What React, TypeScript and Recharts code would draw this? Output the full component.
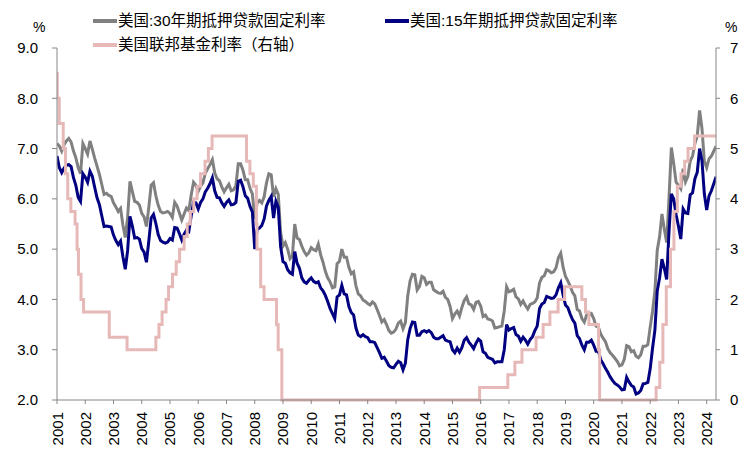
import React from "react";
import { LineChart, Line, XAxis, YAxis } from "recharts";

// Monthly points starting January 2001 (weekly survey rates)
const START_YEAR = 2001;

const mortgage30 = [
  7.1, 7.05, 6.95, 7.08, 7.15, 7.2, 7.13, 6.95, 6.82, 6.62, 6.5, 7.1,
  7.0, 6.89, 7.15, 6.99, 6.81, 6.65, 6.49, 6.29, 6.09, 6.11, 6.07, 6.05,
  5.92, 5.84, 5.75, 5.81, 5.48, 5.23, 5.63, 6.35, 6.15, 5.95, 5.93, 5.88,
  5.71, 5.64, 5.45, 5.83, 6.27, 6.32, 6.06, 5.87, 5.75, 5.72, 5.73, 5.75,
  5.71, 5.63, 5.93, 5.86, 5.72, 5.58, 5.7, 5.82, 5.77, 6.07, 6.33, 6.27,
  6.15, 6.25, 6.32, 6.51, 6.6, 6.68, 6.78, 6.52, 6.4, 6.36, 6.24, 6.14,
  6.22, 6.29, 6.16, 6.18, 6.26, 6.7, 6.7, 6.57, 6.38, 6.38, 6.21, 6.1,
  5.6, 5.92, 5.97, 5.92, 6.04, 6.32, 6.5, 6.48, 6.04, 6.2, 6.09, 5.33,
  5.06, 5.13, 5.0, 4.81, 4.86, 5.5, 5.22, 5.19, 5.06, 4.95, 4.88, 4.93,
  5.03, 4.99, 4.97, 5.1, 4.89, 4.74, 4.56, 4.43, 4.35, 4.23, 4.25, 4.71,
  4.76, 5.0, 4.84, 4.84, 4.64, 4.51, 4.55, 4.27, 4.11, 4.07, 3.99, 3.96,
  3.92, 3.89, 3.95, 3.91, 3.8, 3.68, 3.55, 3.6, 3.5, 3.38, 3.33, 3.35,
  3.41, 3.53, 3.57, 3.42, 3.54, 4.07, 4.37, 4.5, 4.49, 4.19, 4.26, 4.46,
  4.43, 4.3, 4.34, 4.34, 4.19, 4.16, 4.13, 4.12, 4.16, 4.04, 4.0, 3.86,
  3.62, 3.71, 3.77, 3.67, 3.84, 3.98, 4.05, 3.91, 3.89, 3.8, 3.94, 3.96,
  3.87, 3.66, 3.69, 3.61, 3.6, 3.57, 3.43, 3.44, 3.46, 3.47, 3.77, 4.25,
  4.15, 4.17, 4.2, 4.05, 4.01, 3.9, 3.97, 3.88, 3.81, 3.9, 3.92, 3.95,
  4.03, 4.33, 4.44, 4.47, 4.59, 4.57, 4.53, 4.55, 4.63, 4.83, 4.92, 4.64,
  4.46, 4.37, 4.27, 4.14, 4.07, 3.8, 3.77, 3.62, 3.55, 3.69, 3.7, 3.72,
  3.62, 3.47, 3.45, 3.31, 3.23, 3.16, 3.02, 2.94, 2.89, 2.83, 2.77, 2.68,
  2.7, 2.81, 3.08, 3.06, 2.96, 2.98, 2.87, 2.84, 2.9, 3.07, 3.07, 3.1,
  3.45, 3.76, 4.17, 4.98, 5.25, 5.7, 5.4, 5.13, 6.02, 7.02, 6.7, 6.33,
  6.27, 6.2, 6.6, 6.34, 6.45, 6.75, 6.85, 7.1, 7.25, 7.76, 7.4, 6.75,
  6.62, 6.8, 6.85, 6.95, 7.05,
];

const mortgage15 = [
  6.85, 6.62, 6.52, 6.61, 6.67, 6.68, 6.64, 6.42, 6.27, 6.03, 5.95, 6.5,
  6.43, 6.33, 6.55, 6.45, 6.23, 6.02, 5.89, 5.67, 5.45, 5.46, 5.45, 5.44,
  5.28, 5.17, 5.09, 5.16, 4.85, 4.6, 4.97, 5.65, 5.46, 5.22, 5.23, 5.2,
  5.01, 4.94, 4.74, 5.16, 5.62, 5.69, 5.51, 5.29, 5.17, 5.14, 5.12, 5.14,
  5.21, 5.18, 5.43, 5.42, 5.31, 5.18, 5.3, 5.38, 5.35, 5.66, 5.93, 5.92,
  5.8, 5.93, 6.0, 6.14, 6.21, 6.3, 6.42, 6.16, 6.03, 6.02, 5.92, 5.85,
  5.93, 5.98, 5.88, 5.89, 5.93, 6.35, 6.37, 6.24, 6.06, 6.01, 5.85, 5.74,
  5.0, 5.39, 5.42, 5.47, 5.6, 5.86, 5.97, 6.05, 5.62, 5.95, 5.83, 5.05,
  4.75, 4.72, 4.59, 4.53, 4.5, 4.95, 4.72, 4.62, 4.43, 4.35, 4.32, 4.38,
  4.43, 4.36, 4.33, 4.35, 4.23, 4.17, 4.08, 3.96, 3.82, 3.72, 3.62, 4.05,
  4.09, 4.28, 4.11, 4.09, 3.86, 3.74, 3.69, 3.43, 3.29, 3.26, 3.3, 3.26,
  3.24, 3.16, 3.16, 3.14, 3.04, 2.94, 2.83, 2.85, 2.77, 2.68, 2.65, 2.64,
  2.71, 2.77, 2.74, 2.6, 2.73, 3.2, 3.42, 3.55, 3.54, 3.29, 3.29, 3.36,
  3.38, 3.35, 3.38, 3.34, 3.25, 3.22, 3.22, 3.25, 3.28, 3.19, 3.17, 3.16,
  3.0, 2.94, 3.03, 2.95, 3.04, 3.19, 3.24, 3.15, 3.09, 3.02, 3.13, 3.21,
  3.17, 2.96, 2.93, 2.85, 2.83, 2.81, 2.74, 2.76, 2.76, 2.76, 3.0, 3.5,
  3.39, 3.42, 3.44, 3.3, 3.27, 3.17, 3.25, 3.19, 3.11, 3.2, 3.26, 3.38,
  3.47, 3.82, 3.91, 3.94, 4.06, 4.04, 4.02, 4.03, 4.09, 4.23, 4.33, 4.09,
  3.89, 3.84, 3.71, 3.6, 3.53, 3.28, 3.22, 3.09, 3.0, 3.15, 3.15, 3.19,
  3.09, 2.97, 2.97, 2.8, 2.72, 2.63, 2.55, 2.46, 2.39, 2.33, 2.3, 2.26,
  2.2, 2.21, 2.45, 2.36, 2.29, 2.26, 2.12, 2.14, 2.19, 2.32, 2.33, 2.35,
  2.62, 3.03, 3.39, 4.17, 4.43, 4.8, 4.62, 4.4, 5.35, 6.1, 6.0, 5.69,
  5.46, 5.2, 5.8, 5.72, 5.71, 6.08, 6.12, 6.4, 6.53, 7.0, 6.76, 6.1,
  5.78, 6.06, 6.16, 6.3, 6.44,
];

// Fed funds target changes (decimal year, rate)
const fedDates = [
  2001.0, 2001.01, 2001.08, 2001.22, 2001.3, 2001.38, 2001.49, 2001.64, 2001.71,
  2001.76, 2001.85, 2001.94, 2002.85, 2003.48, 2004.5, 2004.61, 2004.72, 2004.86,
  2004.95, 2005.09, 2005.22, 2005.34, 2005.5, 2005.61, 2005.72, 2005.84, 2005.96,
  2006.08, 2006.24, 2006.36, 2006.49, 2007.71, 2007.83, 2007.95, 2008.06, 2008.08,
  2008.21, 2008.33, 2008.77, 2008.83, 2008.96, 2015.96, 2016.96, 2017.21, 2017.46,
  2017.96, 2018.21, 2018.45, 2018.74, 2018.97, 2019.58, 2019.71, 2019.83, 2020.17,
  2020.21, 2022.21, 2022.34, 2022.45, 2022.57, 2022.72, 2022.84, 2022.96, 2023.09,
  2023.22, 2023.34, 2023.57, 2024.33,
];
const fedRates = [
  6.5, 6.0, 5.5, 5.0, 4.5, 4.0, 3.75, 3.5, 3.0,
  2.5, 2.0, 1.75, 1.25, 1.0, 1.25, 1.5, 1.75, 2.0,
  2.25, 2.5, 2.75, 3.0, 3.25, 3.5, 3.75, 4.0, 4.25,
  4.5, 4.75, 5.0, 5.25, 4.75, 4.5, 4.25, 3.5, 3.0,
  2.25, 2.0, 1.5, 1.0, 0, 0.25, 0.5, 0.75, 1.0,
  1.25, 1.5, 1.75, 2.0, 2.25, 2.0, 1.75, 1.5, 1.0,
  0, 0.25, 0.75, 1.5, 2.25, 3.0, 3.75, 4.25, 4.5,
  4.75, 5.0, 5.25, 5.25,
];

const yearTicks = [
  2001, 2002, 2003, 2004, 2005, 2006, 2007, 2008, 2009, 2010, 2011, 2012,
  2013, 2014, 2015, 2016, 2017, 2018, 2019, 2020, 2021, 2022, 2023, 2024,
];
const leftTicks = [2, 3, 4, 5, 6, 7, 8, 9];
const rightTicks = [0, 1, 2, 3, 4, 5, 6, 7];

const mortgageData = mortgage30.map((v, i) => ({
  date: START_YEAR + i / 12,
  m30: v,
  m15: mortgage15[i],
}));
const fedData = fedDates.map((d, i) => ({ date: d, fed: fedRates[i] }));

const FONT = '"Liberation Sans", Arial, "Noto Sans CJK SC", sans-serif';
const AXIS = "#868686";

const YearTick = (props: any) => {
  const { x, y, payload } = props;
  return (
    <text
      x={x}
      y={y}
      transform={`rotate(-90, ${x}, ${y})`}
      textAnchor="end"
      dominantBaseline="central"
      fontSize={15}
      fill="#000"
      fontFamily={FONT}
    >
      {payload.value}
    </text>
  );
};

const LegendItem = ({ left, top, color, label }: any) => (
  <div
    style={{
      position: "absolute",
      left,
      top,
      display: "flex",
      alignItems: "center",
      fontSize: 15.5,
      whiteSpace: "nowrap",
      lineHeight: "18px",
    }}
  >
    <span style={{ display: "inline-block", width: 24, height: 4, background: color, marginRight: 1 }} />
    <span>{label}</span>
  </div>
);

const App = () => {
  return (
    <div style={{ position: "absolute", left: 0, top: 0, width: 754, height: 463, fontFamily: FONT, background: "#fff" }}>
      <LineChart width={754} height={463} margin={{ top: 48, right: 0, left: 0, bottom: 0 }}>
        <XAxis
          dataKey="date"
          type="number"
          domain={[2001, 2024.33]}
          ticks={yearTicks}
          interval={0}
          allowDataOverflow
          height={63}
          tickSize={4}
          tickMargin={8}
          stroke={AXIS}
          tick={<YearTick />}
        />
        <YAxis
          yAxisId="left"
          domain={[2, 9]}
          ticks={leftTicks}
          width={57}
          tickSize={5}
          tickMargin={14}
          stroke={AXIS}
          tick={{ fill: "#000", fontSize: 15 }}
          tickFormatter={(v) => v.toFixed(1)}
        />
        <YAxis
          yAxisId="right"
          orientation="right"
          domain={[0, 7]}
          ticks={rightTicks}
          width={38}
          tickSize={4}
          tickMargin={10}
          stroke={AXIS}
          tick={{ fill: "#000", fontSize: 15 }}
        />
        <Line
          yAxisId="left"
          data={mortgageData}
          dataKey="m30"
          stroke="#808080"
          strokeWidth={3}
          dot={false}
          isAnimationActive={false}
        />
        <Line
          yAxisId="left"
          data={mortgageData}
          dataKey="m15"
          stroke="#000080"
          strokeWidth={3}
          dot={false}
          isAnimationActive={false}
        />
        <Line
          yAxisId="right"
          data={fedData}
          dataKey="fed"
          type="stepAfter"
          stroke="#E6B9B8"
          strokeWidth={3}
          dot={false}
          isAnimationActive={false}
        />
      </LineChart>
      <div style={{ position: "absolute", left: 33, top: 19, fontSize: 14 }}>%</div>
      <div style={{ position: "absolute", left: 725, top: 19, fontSize: 14 }}>%</div>
      <LegendItem left={93} top={12} color="#808080" label="美国:30年期抵押贷款固定利率" />
      <LegendItem left={385} top={12} color="#000080" label="美国:15年期抵押贷款固定利率" />
      <LegendItem left={93} top={36} color="#E6B9B8" label="美国联邦基金利率（右轴）" />
    </div>
  );
};

export default App;
